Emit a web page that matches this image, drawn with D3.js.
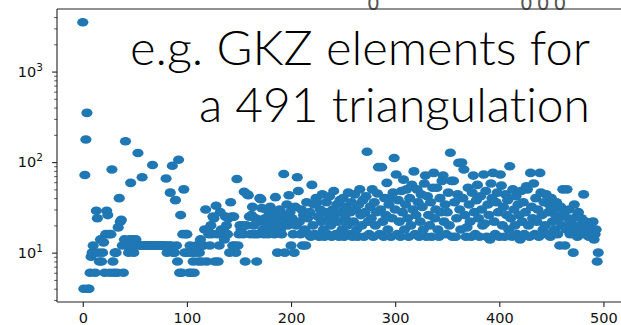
<!DOCTYPE html>
<html>
<head>
<meta charset="utf-8">
<script src="https://cdn.jsdelivr.net/npm/d3@7"></script>
<style>
  body { margin: 0; background: #fff; }
  svg { display: block; }
</style>
</head>
<body>
<div id="wrapper"></div>
<script>
// GKZ vector entries, index = position in the vector
const gkzValues = [
  3500, 4, 72, 178, 350, 4, 4, 6, 9, 10,
  12, 10, 6, 29, 24, 10, 8, 14, 8, 10,
  13, 6, 16, 29, 26, 16, 6, 16, 83, 8,
  6, 10, 10, 6, 19, 40, 22, 23, 12, 6,
  14, 170, 12, 12, 10, 14, 59, 12, 14, 10,
  12, 14, 12, 126, 12, 12, 12, 68, 12, 12,
  12, 12, 12, 12, 12, 12, 12, 93, 12, 12,
  12, 12, 12, 12, 12, 12, 12, 12, 12, 12,
  66, 10, 12, 12, 46, 12, 91, 10, 10, 38,
  12, 8, 106, 6, 26, 6, 16, 50, 10, 16,
  16, 10, 6, 12, 6, 10, 8, 6, 10, 12,
  12, 8, 10, 14, 8, 12, 12, 18, 30, 8,
  18, 16, 12, 20, 16, 25, 24, 8, 33, 16,
  8, 12, 28, 18, 16, 18, 14, 25, 20, 16,
  24, 10, 36, 25, 12, 25, 12, 10, 65, 12,
  16, 20, 18, 20, 16, 47, 8, 20, 44, 43,
  25, 16, 26, 32, 20, 16, 24, 8, 16, 22,
  40, 39, 31, 18, 16, 24, 30, 20, 16, 26,
  32, 22, 18, 28, 16, 41, 24, 10, 20, 30,
  18, 16, 26, 74, 10, 22, 34, 20, 43, 28,
  12, 24, 16, 10, 32, 20, 68, 48, 22, 16,
  30, 12, 26, 18, 12, 36, 24, 16, 28, 15,
  56, 20, 34, 16, 40, 36, 25, 15, 30, 22,
  44, 18, 15, 28, 36, 16, 24, 42, 20, 15,
  30, 48, 26, 16, 34, 22, 15, 38, 28, 18,
  40, 15, 24, 32, 20, 46, 16, 28, 36, 15,
  22, 44, 30, 18, 15, 34, 50, 26, 20, 38,
  15, 28, 42, 130, 22, 16, 32, 24, 50, 15,
  36, 20, 28, 45, 88, 16, 30, 88, 22, 15,
  40, 26, 59, 18, 34, 40, 15, 24, 46, 111,
  30, 73, 16, 38, 22, 15, 48, 28, 64, 18,
  34, 50, 24, 15, 40, 20, 56, 30, 79, 16,
  26, 50, 36, 15, 22, 44, 32, 18, 58, 71,
  15, 42, 26, 20, 36, 15, 52, 76, 24, 30,
  52, 18, 15, 40, 28, 62, 71, 22, 34, 16,
  28, 46, 20, 127, 62, 15, 62, 36, 15, 24,
  44, 98, 30, 18, 99, 40, 83, 26, 15, 19,
  52, 34, 22, 15, 46, 71, 28, 16, 38, 56,
  24, 15, 42, 30, 20, 73, 21, 48, 15, 34,
  26, 14, 58, 40, 76, 22, 16, 36, 46, 28,
  15, 73, 55, 20, 32, 15, 44, 26, 38, 18,
  90, 24, 15, 50, 30, 20, 42, 16, 34, 26,
  14, 48, 22, 36, 16, 28, 54, 50, 20, 15,
  76, 32, 24, 58, 16, 40, 22, 30, 15, 76,
  46, 26, 18, 36, 20, 44, 16, 28, 34, 15,
  40, 22, 30, 18, 26, 36, 16, 24, 12, 32,
  20, 50, 28, 12, 18, 50, 24, 30, 16, 22,
  20, 10, 34, 18, 25, 15, 28, 20, 16, 24,
  18, 44, 16, 22, 21, 18, 15, 20, 16, 18,
  22, 14, 16, 18, 8, 10
];
const xTicks = [0, 100, 200, 300, 400, 500];
const yMajor = [10, 100, 1000];
const yExponents = ["1", "2", "3"];
const titleLines = ["e.g. GKZ elements for", "a 491 triangulation"];
const topScraps = [{text: "0", x: 367}, {text: "000", x: 520}];

const width = 621, height = 325;
const margin = {top: 9, right: -3, bottom: 23, left: 57};
const boundedWidth = width - margin.left - margin.right;
const boundedHeight = height - margin.top - margin.bottom;
const dotColor = "#1f77b4";
const axisColor = "#222";

const svg = d3.select("#wrapper")
  .append("svg")
  .attr("width", width)
  .attr("height", height);

// bits of another figure peeking in over the top spine
svg.append("g")
  .attr("opacity", 0.99)
  .selectAll("text")
  .data(topScraps)
  .enter().append("text")
  .attr("x", d => d.x)
  .attr("y", 10)
  .attr("font-family", "DejaVu Sans, sans-serif")
  .attr("font-size", 20)
  .attr("fill", "#555")
  .attr("letter-spacing", 4)
  .text(d => d.text);

const bounds = svg.append("g")
  .attr("transform", `translate(${margin.left},${margin.top})`);

const xScale = d3.scaleLinear()
  .domain([-24.75, 519.75])
  .range([0, boundedWidth]);

const yScale = d3.scaleLog()
  .domain([Math.pow(10, 0.455), Math.pow(10, 3.691)])
  .range([boundedHeight, 0]);

// points (matplotlib scatter, squashed into ellipses)
bounds.append("g")
  .selectAll("ellipse")
  .data(gkzValues)
  .enter().append("ellipse")
  .attr("cx", (d, i) => xScale(i))
  .attr("cy", d => yScale(d))
  .attr("rx", 5.6)
  .attr("ry", 4.3)
  .attr("fill", dotColor);

// x axis
const xAxis = bounds.append("g")
  .attr("transform", `translate(0,${boundedHeight})`)
  .call(d3.axisBottom(xScale).tickValues(xTicks).tickSize(4.9).tickPadding(5.5).tickFormat(d3.format("d")));
xAxis.select(".domain").remove();
xAxis.selectAll("line").attr("stroke", axisColor).attr("stroke-width", 1.1);
xAxis.selectAll("text")
  .attr("fill", "#111")
  .attr("font-family", "DejaVu Sans, sans-serif")
  .attr("font-size", 14.5);

// y axis, major + minor ticks
const yMinor = [];
for (let e = 0; e < 4; e++) {
  for (let k = 2; k <= 9; k++) {
    const v = k * Math.pow(10, e);
    if (v > yScale.domain()[0] && v < yScale.domain()[1]) yMinor.push(v);
  }
}
const yAxisMinor = bounds.append("g")
  .call(d3.axisLeft(yScale).tickValues(yMinor).tickSize(2.8).tickFormat(""));
yAxisMinor.select(".domain").remove();
yAxisMinor.selectAll("line").attr("stroke", "#444").attr("stroke-width", 0.9);

const yAxis = bounds.append("g")
  .call(d3.axisLeft(yScale).tickValues(yMajor).tickSize(4.9).tickFormat(""));
yAxis.select(".domain").remove();
yAxis.selectAll("line").attr("stroke", axisColor).attr("stroke-width", 1.1);

const yLabels = bounds.append("g")
  .selectAll("text")
  .data(yMajor)
  .enter().append("text")
  .attr("x", -14)
  .attr("y", d => yScale(d) + 5)
  .attr("text-anchor", "end")
  .attr("fill", "#111")
  .attr("font-family", "DejaVu Sans, sans-serif")
  .attr("font-size", 14.5);
yLabels.append("tspan").text("10");
yLabels.append("tspan")
  .attr("font-size", 10.5)
  .attr("dy", -6)
  .text((d, i) => yExponents[i]);

// spines: left, top, bottom (right one falls outside the picture)
const spines = [
  [0, 0, 0, boundedHeight],
  [0, 0, boundedWidth, 0],
  [0, boundedHeight, boundedWidth, boundedHeight]
];
bounds.selectAll("line.spine")
  .data(spines)
  .enter().append("line")
  .attr("class", "spine")
  .attr("x1", d => d[0]).attr("y1", d => d[1])
  .attr("x2", d => d[2]).attr("y2", d => d[3])
  .attr("stroke", axisColor)
  .attr("stroke-width", 1.1);

// overlaid caption
const titleLayout = [
  {x: 130, y: 65, len: 460},
  {x: 199, y: 122, len: 391}
];
svg.selectAll("text.title")
  .data(titleLines)
  .enter().append("text")
  .attr("class", "title")
  .attr("x", (d, i) => titleLayout[i].x)
  .attr("y", (d, i) => titleLayout[i].y)
  .attr("textLength", (d, i) => titleLayout[i].len)
  .attr("lengthAdjust", "spacingAndGlyphs")
  .attr("font-family", "Lato, sans-serif")
  .attr("font-weight", 300)
  .attr("font-size", 47)
  .style("font-variant-ligatures", "none")
  .attr("fill", "#000")
  .text(d => d);
</script>
</body>
</html>
